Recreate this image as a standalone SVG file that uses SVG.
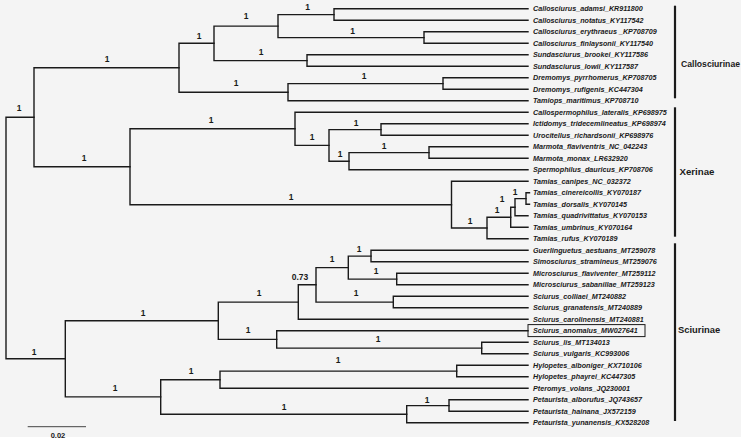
<svg xmlns="http://www.w3.org/2000/svg" width="745" height="441" viewBox="0 0 745 441">
<style>
.bg{fill:#f4f4f4}
.e{fill:none;stroke:#1a1a1a;stroke-width:1.4;stroke-linecap:square}
.leaf{font-family:"Liberation Sans",Arial,sans-serif;font-size:7.2px;font-style:italic;font-weight:bold;fill:#1a1a1a}
.sup{font-family:"Liberation Sans",Arial,sans-serif;font-size:8.5px;font-weight:bold;fill:#1a1a1a;text-anchor:middle}
.clade{font-family:"Liberation Sans",Arial,sans-serif;font-size:9.5px;font-weight:bold;fill:#1a1a1a}
.bar{stroke:#1a1a1a;stroke-width:2.2}
</style>
<rect x="0" y="0" width="745" height="441" fill="#ffffff"/>
<rect class="bg" x="0" y="0" width="741" height="437"/>
<g id="connectors">
<path class="e" d="M6 117.2V358.8 M6 117.2H34 M6 358.8H65.3"/>
<path class="e" d="M34 67.7V166.8 M34 67.7H179 M34 166.8H130"/>
<path class="e" d="M179 43.3V92.2 M179 43.3H214 M179 92.2H288"/>
<path class="e" d="M214 26.1V60.6 M214 26.1H278 M214 60.6H307"/>
<path class="e" d="M278 14.6V37.6 M278 14.6H334 M278 37.6H424"/>
<path class="e" d="M334 8.8V20.3 M334 8.8H528 M334 20.3H528"/>
<path class="e" d="M424 31.8V43.3 M424 31.8H528 M424 43.3H528"/>
<path class="e" d="M307 54.8V66.3 M307 54.8H528 M307 66.3H528"/>
<path class="e" d="M288 83.6V100.8 M288 83.6H443 M288 100.8H528"/>
<path class="e" d="M443 77.8V89.3 M443 77.8H528 M443 89.3H528"/>
<path class="e" d="M130 128.8V204.7 M130 128.8H295 M130 204.7H451.5"/>
<path class="e" d="M295 112.3V145.4 M295 112.3H528 M295 145.4H329"/>
<path class="e" d="M329 129.6V161.2 M329 129.6H381 M329 161.2H349"/>
<path class="e" d="M381 123.8V135.3 M381 123.8H528 M381 135.3H528"/>
<path class="e" d="M349 152.6V169.8 M349 152.6H429 M349 169.8H528"/>
<path class="e" d="M429 146.8V158.3 M429 146.8H528 M429 158.3H528"/>
<path class="e" d="M451.5 181.3V228 M451.5 181.3H528 M451.5 228H487"/>
<path class="e" d="M487 217.2V238.8 M487 217.2H510.7 M487 238.8H528"/>
<path class="e" d="M510.7 207.2V227.3 M510.7 207.2H515 M510.7 227.3H528"/>
<path class="e" d="M515 198.6V215.8 M515 198.6H526 M515 215.8H528"/>
<path class="e" d="M526 192.8V204.3 M526 192.8H529.5 M526 204.3H529.5"/>
<path class="e" d="M65.3 320.7V396.9 M65.3 320.7H218.3 M65.3 396.9H160.7"/>
<path class="e" d="M218.3 302.1V339.4 M218.3 302.1H298.3 M218.3 339.4H276.7"/>
<path class="e" d="M298.3 284.8V319.3 M298.3 284.8H316 M298.3 319.3H528"/>
<path class="e" d="M316 267.6V302.1 M316 267.6H348.3 M316 302.1H393.3"/>
<path class="e" d="M348.3 256.1V279.1 M348.3 256.1H371 M348.3 279.1H396.7"/>
<path class="e" d="M371 250.3V261.8 M371 250.3H528 M371 261.8H528"/>
<path class="e" d="M396.7 273.3V284.8 M396.7 273.3H528 M396.7 284.8H528"/>
<path class="e" d="M393.3 296.3V307.8 M393.3 296.3H528 M393.3 307.8H528"/>
<path class="e" d="M276.7 330.8V348.1 M276.7 330.8H528 M276.7 348.1H481.7"/>
<path class="e" d="M481.7 342.3V353.8 M481.7 342.3H528 M481.7 353.8H528"/>
<path class="e" d="M160.7 379.7V414.2 M160.7 379.7H220 M160.7 414.2H406.7"/>
<path class="e" d="M220 371.1V388.3 M220 371.1H456.7 M220 388.3H528"/>
<path class="e" d="M456.7 365.3V376.8 M456.7 365.3H528 M456.7 376.8H528"/>
<path class="e" d="M406.7 405.6V422.8 M406.7 405.6H449 M406.7 422.8H528"/>
<path class="e" d="M449 399.8V411.3 M449 399.8H528 M449 411.3H528"/>
</g>
<g id="support">
<text class="sup" x="19" y="111">1</text>
<text class="sup" x="107" y="62">1</text>
<text class="sup" x="199" y="39">1</text>
<text class="sup" x="246" y="19">1</text>
<text class="sup" x="307.7" y="10">1</text>
<text class="sup" x="352.7" y="34">1</text>
<text class="sup" x="261" y="55">1</text>
<text class="sup" x="236" y="86">1</text>
<text class="sup" x="364" y="79">1</text>
<text class="sup" x="84" y="161">1</text>
<text class="sup" x="211" y="123">1</text>
<text class="sup" x="312" y="140">1</text>
<text class="sup" x="356" y="126">1</text>
<text class="sup" x="340" y="157">1</text>
<text class="sup" x="384" y="149">1</text>
<text class="sup" x="291" y="200">1</text>
<text class="sup" x="470" y="224">1</text>
<text class="sup" x="497" y="213">1</text>
<text class="sup" x="502" y="202">1</text>
<text class="sup" x="515" y="194.5">1</text>
<text class="sup" x="34" y="355">1</text>
<text class="sup" x="143" y="316">1</text>
<text class="sup" x="259" y="296">1</text>
<text class="sup" x="300" y="280">0.73</text>
<text class="sup" x="332" y="262">1</text>
<text class="sup" x="359" y="252">1</text>
<text class="sup" x="376" y="274">1</text>
<text class="sup" x="356" y="296">1</text>
<text class="sup" x="248" y="333">1</text>
<text class="sup" x="378" y="342">1</text>
<text class="sup" x="115" y="391">1</text>
<text class="sup" x="191" y="374">1</text>
<text class="sup" x="338" y="363">1</text>
<text class="sup" x="284" y="410">1</text>
<text class="sup" x="427" y="403">1</text>
</g>
<g id="leaves">
<g id="leaf01"><text class="leaf" x="533" y="11.4">Callosciurus_adamsi_KR911800</text></g>
<g id="leaf02"><text class="leaf" x="533" y="22.9">Callosciurus_notatus_KY117542</text></g>
<g id="leaf03"><text class="leaf" x="533" y="34.4">Callosciurus_erythraeus _KP708709</text></g>
<g id="leaf04"><text class="leaf" x="533" y="45.9">Callosciurus_finlaysonii_KY117540</text></g>
<g id="leaf05"><text class="leaf" x="533" y="57.4">Sundasciurus_brookei_KY117586</text></g>
<g id="leaf06"><text class="leaf" x="533" y="68.9">Sundasciurus_lowii_KY117587</text></g>
<g id="leaf07"><text class="leaf" x="533" y="80.4">Dremomys_pyrrhomerus_KP708705</text></g>
<g id="leaf08"><text class="leaf" x="533" y="91.9">Dremomys_rufigenis_KC447304</text></g>
<g id="leaf09"><text class="leaf" x="533" y="103.4">Tamiops_maritimus_KP708710</text></g>
<g id="leaf10"><text class="leaf" x="533" y="114.9">Callospermophilus_lateralis_KP698975</text></g>
<g id="leaf11"><text class="leaf" x="533" y="126.4">Ictidomys_tridecemlineatus_KP698974</text></g>
<g id="leaf12"><text class="leaf" x="533" y="137.9">Urocitellus_richardsonii_KP698976</text></g>
<g id="leaf13"><text class="leaf" x="533" y="149.4">Marmota_flaviventris_NC_042243</text></g>
<g id="leaf14"><text class="leaf" x="533" y="160.9">Marmota_monax_LR632920</text></g>
<g id="leaf15"><text class="leaf" x="533" y="172.4">Spermophilus_dauricus_KP708706</text></g>
<g id="leaf16"><text class="leaf" x="533" y="183.9">Tamias_canipes_NC_032372</text></g>
<g id="leaf17"><text class="leaf" x="533" y="195.4">Tamias_cinereicollis_KY070187</text></g>
<g id="leaf18"><text class="leaf" x="533" y="206.9">Tamias_dorsalis_KY070145</text></g>
<g id="leaf19"><text class="leaf" x="533" y="218.4">Tamias_quadrivittatus_KY070153</text></g>
<g id="leaf20"><text class="leaf" x="533" y="229.9">Tamias_umbrinus_KY070164</text></g>
<g id="leaf21"><text class="leaf" x="533" y="241.4">Tamias_rufus_KY070189</text></g>
<g id="leaf22"><text class="leaf" x="533" y="252.9">Guerlinguetus_aestuans_MT259078</text></g>
<g id="leaf23"><text class="leaf" x="533" y="264.4">Simosciurus_stramineus_MT259076</text></g>
<g id="leaf24"><text class="leaf" x="533" y="275.9">Microsciurus_flaviventer_MT259112</text></g>
<g id="leaf25"><text class="leaf" x="533" y="287.4">Microsciurus_sabanillae_MT259123</text></g>
<g id="leaf26"><text class="leaf" x="533" y="298.9">Sciurus_colliaei_MT240882</text></g>
<g id="leaf27"><text class="leaf" x="533" y="310.4">Sciurus_granatensis_MT240889</text></g>
<g id="leaf28"><text class="leaf" x="533" y="321.9">Sciurus_carolinensis_MT240881</text></g>
<g id="leaf29"><rect x="528" y="324.6" width="117" height="12" fill="none" stroke="#1a1a1a" stroke-width="1"/><text class="leaf" x="533" y="333.4">Sciurus_anomalus_MW027641</text></g>
<g id="leaf30"><text class="leaf" x="533" y="344.9">Sciurus_lis_MT134013</text></g>
<g id="leaf31"><text class="leaf" x="533" y="356.4">Sciurus_vulgaris_KC993006</text></g>
<g id="leaf32"><text class="leaf" x="533" y="367.9">Hylopetes_alboniger_KX710106</text></g>
<g id="leaf33"><text class="leaf" x="533" y="379.4">Hylopetes_phayrei_KC447305</text></g>
<g id="leaf34"><text class="leaf" x="533" y="390.9">Pteromys_volans_JQ230001</text></g>
<g id="leaf35"><text class="leaf" x="533" y="402.4">Petaurista_alborufus_JQ743657</text></g>
<g id="leaf36"><text class="leaf" x="533" y="413.9">Petaurista_hainana_JX572159</text></g>
<g id="leaf37"><text class="leaf" x="533" y="425.4">Petaurista_yunanensis_KX528208</text></g>
</g>
<g id="clade-callosciurinae"><line class="bar" x1="675" y1="5.7" x2="675" y2="98.3"/><text class="clade" x="681" y="66.8" font-size="8.8" textLength="59" lengthAdjust="spacingAndGlyphs">Callosciurinae</text></g>
<g id="clade-xerinae"><line class="bar" x1="675" y1="107.3" x2="675" y2="236.7"/><text class="clade" x="679.5" y="175.2" textLength="35" lengthAdjust="spacingAndGlyphs">Xerinae</text></g>
<g id="clade-sciurinae"><line class="bar" x1="675" y1="243.3" x2="675" y2="421"/><text class="clade" x="678" y="332.5" textLength="42.3" lengthAdjust="spacingAndGlyphs">Sciurinae</text></g>
<g id="scalebar"><line x1="27.7" y1="426.7" x2="86" y2="426.7" stroke="#444" stroke-width="1"/><text x="58" y="437.5" font-family="'Liberation Sans',Arial,sans-serif" font-size="7.5" font-weight="bold" fill="#1a1a1a" text-anchor="middle">0.02</text></g>
</svg>
